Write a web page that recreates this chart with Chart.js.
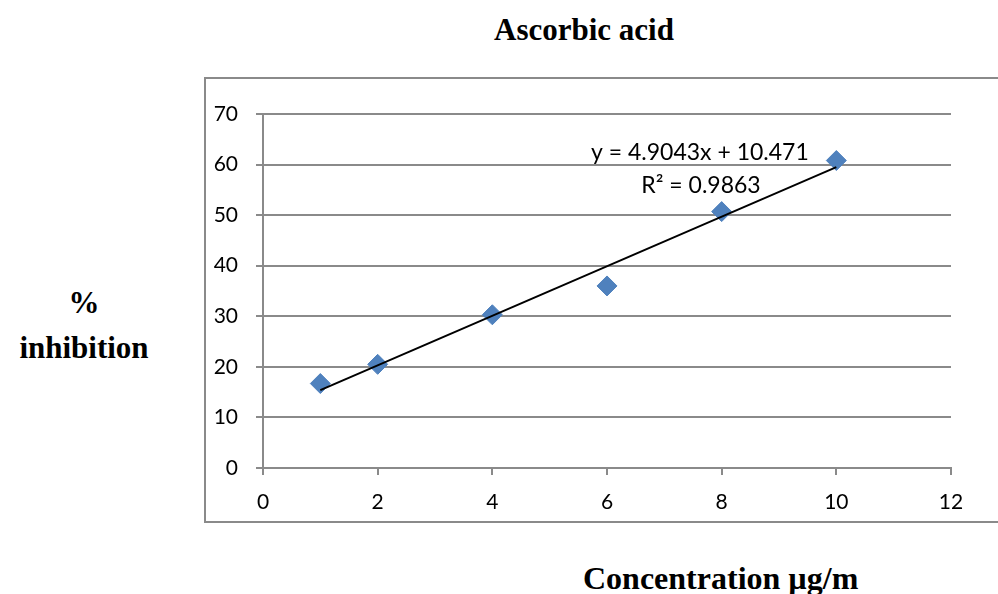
<!DOCTYPE html>
<html>
<head>
<meta charset="utf-8">
<script src="https://cdn.jsdelivr.net/npm/chart.js@4/dist/chart.umd.min.js"></script>
<style>
  body { margin: 0; background: #fff; width: 998px; height: 594px; position: relative; overflow: hidden; }
  .ttl { position: absolute; font-family: "Liberation Serif", "Times New Roman", serif; font-weight: bold; font-size: 31px; line-height: 36px; color: #000; white-space: nowrap; }
  #box { position: absolute; left: 204px; top: 77px; width: 800px; height: 442px; border: 2px solid #8a8a8a; }
  #chart { position: absolute; left: 0; top: 0; }
</style>
</head>
<body>
<div class="ttl" style="left:494px; top:12px;">Ascorbic acid</div>
<div class="ttl" style="left:18px; top:280px; width:132px; text-align:center; line-height:45px;">%<br>inhibition</div>
<div class="ttl" style="left:583px; top:560px; font-size:32px;">Concentration µg/m</div>
<div id="box"><canvas id="chart" width="792" height="442"></canvas></div>
<script>
// concentration (µg/ml) and % inhibition
const concentrations = [1, 2, 4, 6, 8, 10];
const inhibition = [16.7, 20.5, 30.3, 36.0, 50.7, 60.8];
// linear trend line ends
const trendX = [1, 10];
const trendY = [15.4, 59.5];
const equationText = 'y = 4.9043x + 10.471';
const r2Text = 'R² = 0.9863';

const tickFont = { family: 'Lato, "Open Sans", sans-serif', size: 21 };

// draws the trend line equation next to the line
const equationLabel = {
    id: 'equationLabel',
    afterDatasetsDraw(chart) {
        const { ctx, scales } = chart;
        ctx.save();
        ctx.font = '23px Lato, "Open Sans", sans-serif';
        ctx.fillStyle = '#000';
        ctx.textAlign = 'center';
        ctx.textBaseline = 'middle';
        ctx.fillText(equationText, scales.x.getPixelForValue(7.62), scales.y.getPixelForValue(62.4));
        ctx.fillText(r2Text, scales.x.getPixelForValue(7.64), scales.y.getPixelForValue(55.9));
        ctx.restore();
    }
};

new Chart(document.getElementById('chart'), {
    type: 'scatter',
    data: {
        datasets: [{
            label: '% inhibition',
            data: concentrations.map((c, i) => ({ x: c, y: inhibition[i] })),
            pointStyle: 'rectRot',
            pointRadius: 10,
            pointBackgroundColor: '#4f81bd',
            pointBorderColor: '#4f81bd',
            order: 1
        }, {
            label: 'Linear',
            type: 'line',
            data: trendX.map((c, i) => ({ x: c, y: trendY[i] })),
            borderColor: '#000',
            borderWidth: 2,
            pointRadius: 0,
            order: 0
        }]
    },
    options: {
        responsive: false,
        animation: false,
        layout: { padding: { top: 35, right: 47, bottom: 0, left: 0 } },
        plugins: {
            legend: { display: false },
            tooltip: { enabled: false }
        },
        scales: {
            x: {
                type: 'linear',
                min: 0,
                max: 12,
                ticks: { stepSize: 2, color: '#000', font: tickFont, padding: 15 },
                grid: { drawOnChartArea: false, color: '#8a8a8a', lineWidth: 2, tickLength: 7 },
                border: { color: '#8a8a8a', width: 2 },
                afterFit: (scale) => { scale.height = 53; }
            },
            y: {
                min: 0,
                max: 70,
                ticks: { stepSize: 10, color: '#000', font: tickFont, padding: 18 },
                grid: { color: '#8a8a8a', lineWidth: 2, tickLength: 7 },
                border: { color: '#8a8a8a', width: 2 },
                afterFit: (scale) => { scale.width = 57; }
            }
        }
    },
    plugins: [equationLabel]
});
</script>
</body>
</html>
